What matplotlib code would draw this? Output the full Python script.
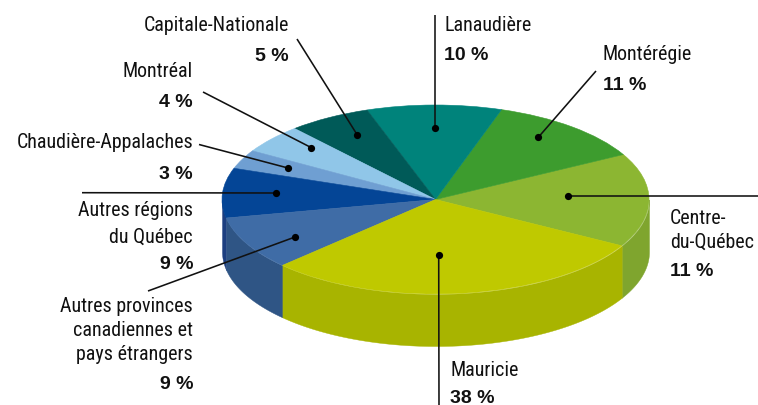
import numpy as np
import matplotlib
matplotlib.use("Agg")
import matplotlib.pyplot as plt
from matplotlib import font_manager as fm

# Labelled values (as printed on the chart)
regions = ["Centre-du-Québec", "Montérégie", "Lanaudière", "Capitale-Nationale", "Montréal",
           "Chaudière-Appalaches", "Autres régions du Québec",
           "Autres provinces canadiennes et pays étrangers", "Mauricie"]
labelled_pct = [11, 11, 10, 5, 4, 3, 9, 9, 38]
drawn_sweep = [57.7, 43.6, 36.7, 22.6, 17.7, 11.7, 30.6, 32.9, 106.5]
start_angle = 330.7
top_colors = ["#8cb632", "#3d9c2e", "#00837b", "#005a58", "#90c6e8",
              "#6f9fd2", "#044596", "#3f6ca6", "#bfc900"]
wall_colors = ["#7fa52e", "#3d9c2e", "#00837b", "#005a58", "#90c6e8",
               "#6f9fd2", "#1d3f80", "#2f5585", "#a8b400"]

W, H = 758, 406
CX, CY, RX, RY, DEPTH = 435.5, 200.5, 213.5, 94.5, 52.0

fig = plt.figure(figsize=(W / 100, H / 100), dpi=100, facecolor="white")
ax = fig.add_axes([0, 0, 1, 1])

edges = start_angle + np.concatenate([[0], np.cumsum(drawn_sweep)])
depth = DEPTH / RY
for a0, a1, c in zip(edges[:-1], edges[1:], wall_colors):
    t = np.radians(np.linspace(a0, a1, 200))
    vis = np.sin(t) <= 0
    if vis.any():
        ax.fill_between(np.cos(t[vis]), np.sin(t[vis]), np.sin(t[vis]) - depth,
                        color=c, lw=0.3, zorder=1)

wedges, _ = ax.pie(drawn_sweep, colors=top_colors, startangle=start_angle,
                   counterclock=True, radius=1, frame=True)
for w, c in zip(wedges, top_colors):
    w.set_zorder(2)
    w.set_edgecolor(c)
    w.set_linewidth(0.4)
ax.set_aspect("auto")
ax.set_xlim(-CX / RX, (W - CX) / RX)
ax.set_ylim((CY - H) / RY, CY / RY)
ax.axis("off")

ov = fig.add_axes([0, 0, 1, 1], facecolor="none")
ov.set_xlim(0, W)
ov.set_ylim(H, 0)
ov.axis("off")

leaders = [((297, 40), (357, 135.5)), ((203, 93), (311, 148.5)), ((199, 145.5), (288, 169)),
           ((82, 193.7), (276, 194)), ((148, 292), (295, 238)), ((439, 406), (438.7, 256)),
           ((758, 197.2), (568, 197.2)), ((596, 72), (538.3, 138.3)), ((435, 16), (435, 129))]
for (x0, y0), (x1, y1) in leaders:
    ov.plot([x0, x1], [y0, y1], color="#111111", lw=1.15, solid_capstyle="butt", zorder=5)
    ov.plot([x1], [y1], "o", color="black", ms=5.2, mew=0, zorder=6)

avail = {f.name for f in fm.fontManager.ttflist}
def first(prefs):
    return [n for n in prefs if n in avail][:1] + ["DejaVu Sans"]
FONT = first(["Roboto Condensed", "Archivo Narrow", "Fira Sans Condensed", "Liberation Sans"])
BOLD = ["Liberation Sans", "DejaVu Sans"]
FS = 14.4
FS_BOLD = 14.0
def name(x, y, s, ha):
    ov.text(x, y, s, ha=ha, va="baseline", fontsize=FS, family=FONT, color="#111111")
def pct(x, y, v, ha):
    ov.text(x, y, f"{v} %", ha=ha, va="baseline", fontsize=FS_BOLD, family=BOLD,
            fontweight="bold", color="#111111")

v = dict(zip(regions, labelled_pct))
name(289, 31, "Capitale-Nationale", "right"); pct(289, 61, v["Capitale-Nationale"], "right")
name(193, 77, "Montréal", "right"); pct(193, 107, v["Montréal"], "right")
name(193, 148, "Chaudière-Appalaches", "right"); pct(193, 179, v["Chaudière-Appalaches"], "right")
name(193, 216, "Autres régions", "right"); name(193, 243, "du Québec", "right")
pct(193, 269, v["Autres régions du Québec"], "right")
name(193, 312, "Autres provinces", "right"); name(193, 336, "canadiennes et", "right")
name(193, 360, "pays étrangers", "right")
pct(193, 389, v["Autres provinces canadiennes et pays étrangers"], "right")
name(444, 31, "Lanaudière", "left"); pct(444, 60, v["Lanaudière"], "left")
name(603, 60, "Montérégie", "left"); pct(603, 90, v["Montérégie"], "left")
name(670, 224, "Centre-", "left"); name(670, 248, "du-Québec", "left")
pct(670, 276, v["Centre-du-Québec"], "left")
name(450, 376, "Mauricie", "left"); pct(450, 403.5, v["Mauricie"], "left")

fig.savefig("out.png", dpi=100)
